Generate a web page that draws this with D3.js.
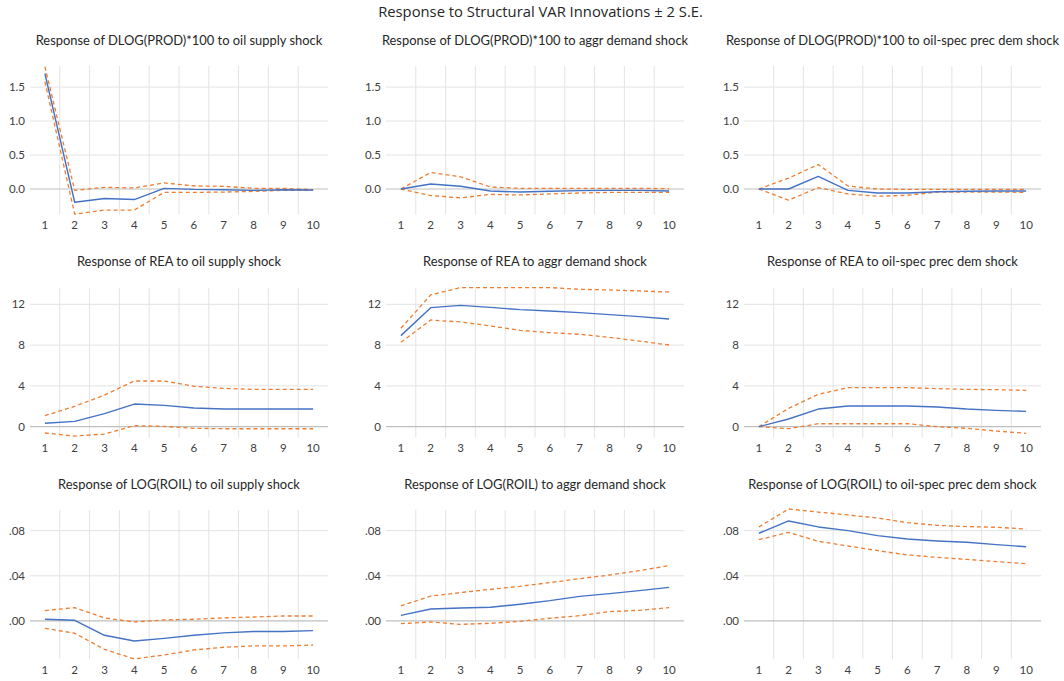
<!DOCTYPE html>
<html>
<head>
<meta charset="utf-8">
<script src="https://cdn.jsdelivr.net/npm/d3@7"></script>
<style>
  html, body { margin: 0; padding: 0; background: #ffffff; }
  svg { display: block; }
</style>
</head>
<body>
<svg id="chart" width="1064" height="681"></svg>
<script>
// ---------------- DATA ----------------
const mainTitle = "Response to Structural VAR Innovations \u00B1 2 S.E.";
const steps = ["1", "2", "3", "4", "5", "6", "7", "8", "9", "10"];

const panelTitles = [
  "Response of DLOG(PROD)*100 to oil supply shock",
  "Response of DLOG(PROD)*100 to aggr demand shock",
  "Response of DLOG(PROD)*100 to oil-spec prec dem shock",
  "Response of REA to oil supply shock",
  "Response of REA to aggr demand shock",
  "Response of REA to oil-spec prec dem shock",
  "Response of LOG(ROIL) to oil supply shock",
  "Response of LOG(ROIL) to aggr demand shock",
  "Response of LOG(ROIL) to oil-spec prec dem shock"
];

const prodYTicks = [0, 0.5, 1.0, 1.5];
const reaYTicks = [0, 4, 8, 12];
const roilYTicks = [0, 0.04, 0.08];
const prodYDomain = [-0.375, 1.81];
const reaYDomain = [-1.08, 13.57];
const roilYDomain = [-0.0337, 0.0983];

// DLOG(PROD)*100
const prodSupply    = [1.70, -0.195, -0.14, -0.155, 0.01, -0.005, -0.01, -0.02, -0.01, -0.015];
const prodSupplyHi  = [1.80, -0.02, 0.025, 0.015, 0.09, 0.045, 0.04, 0.01, 0.01, -0.01];
const prodSupplyLo  = [1.58, -0.37, -0.31, -0.31, -0.05, -0.05, -0.045, -0.035, -0.02, -0.02];
const prodDemand    = [0.0, 0.073, 0.04, -0.03, -0.044, -0.034, -0.024, -0.02, -0.02, -0.03];
const prodDemandHi  = [0.0, 0.243, 0.18, 0.03, 0.01, 0.01, 0.01, 0.01, 0.01, 0.005];
const prodDemandLo  = [0.0, -0.097, -0.13, -0.08, -0.087, -0.073, -0.058, -0.05, -0.05, -0.05];
const prodOilSpec   = [0.0, 0.0, 0.185, -0.02, -0.058, -0.058, -0.04, -0.034, -0.03, -0.03];
const prodOilSpecHi = [0.0, 0.16, 0.36, 0.045, 0.0, -0.005, -0.005, -0.005, -0.005, -0.005];
const prodOilSpecLo = [0.0, -0.165, 0.02, -0.073, -0.107, -0.092, -0.045, -0.044, -0.044, -0.05];

// REA
const reaSupply    = [0.33, 0.52, 1.28, 2.22, 2.09, 1.83, 1.73, 1.73, 1.73, 1.73];
const reaSupplyHi  = [1.08, 2.0, 3.1, 4.48, 4.48, 3.96, 3.76, 3.66, 3.66, 3.66];
const reaSupplyLo  = [-0.62, -0.92, -0.72, 0.1, 0.03, -0.16, -0.2, -0.2, -0.2, -0.2];
const reaDemand    = [8.93, 11.67, 11.9, 11.7, 11.48, 11.35, 11.18, 10.99, 10.79, 10.56];
const reaDemandHi  = [9.65, 12.92, 13.64, 13.64, 13.64, 13.64, 13.47, 13.41, 13.31, 13.21];
const reaDemandLo  = [8.27, 10.46, 10.27, 9.88, 9.45, 9.22, 9.06, 8.76, 8.4, 8.01];
const reaOilSpec   = [0.0, 0.75, 1.73, 2.03, 2.03, 2.03, 1.93, 1.73, 1.6, 1.5];
const reaOilSpecHi = [0.0, 1.8, 3.17, 3.83, 3.83, 3.83, 3.73, 3.66, 3.63, 3.56];
const reaOilSpecLo = [0.0, -0.2, 0.29, 0.29, 0.29, 0.29, 0.0, -0.16, -0.43, -0.65];

// LOG(ROIL)
const roilSupply    = [0.0015, 0.0006, -0.0127, -0.0177, -0.0154, -0.0127, -0.0106, -0.0094, -0.0094, -0.0086];
const roilSupplyHi  = [0.0092, 0.0118, 0.0027, -0.0009, 0.0009, 0.0015, 0.0027, 0.0035, 0.0044, 0.0044];
const roilSupplyLo  = [-0.0065, -0.0109, -0.0251, -0.0337, -0.0301, -0.0257, -0.0233, -0.0221, -0.0221, -0.0213];
const roilDemand    = [0.005, 0.0106, 0.0115, 0.0121, 0.0148, 0.018, 0.0218, 0.0242, 0.0269, 0.0298];
const roilDemandHi  = [0.0133, 0.0221, 0.0251, 0.028, 0.0307, 0.034, 0.0375, 0.0407, 0.0446, 0.049];
const roilDemandLo  = [-0.0024, -0.0009, -0.003, -0.0021, -0.0003, 0.0024, 0.0047, 0.0083, 0.0094, 0.0118];
const roilOilSpec   = [0.0777, 0.0886, 0.0833, 0.080, 0.0756, 0.0726, 0.0709, 0.0697, 0.0676, 0.0658];
const roilOilSpecHi = [0.0833, 0.0992, 0.0965, 0.0939, 0.0912, 0.0871, 0.0847, 0.0836, 0.083, 0.0815];
const roilOilSpecLo = [0.072, 0.0785, 0.0706, 0.0664, 0.0623, 0.0585, 0.0564, 0.0546, 0.0526, 0.0508];

// ---------------- LAYOUT ----------------
const colX = [[30, 328], [386, 684], [744, 1041]];
const rowY = [[66, 214.5], [288.3, 437.7], [510, 659]];
const titleY = [40, 261, 484];

const fmtProd = d3.format(".1f");
const fmtRea = d3.format("d");
const fmtRoil = d => d3.format(".2f")(d).replace(/^0\./, ".").replace(/^-0\./, "-.");

const rows = [
  { ticks: prodYTicks, domain: prodYDomain, fmt: fmtProd,
    series: [[prodSupply, prodSupplyHi, prodSupplyLo], [prodDemand, prodDemandHi, prodDemandLo], [prodOilSpec, prodOilSpecHi, prodOilSpecLo]] },
  { ticks: reaYTicks, domain: reaYDomain, fmt: fmtRea,
    series: [[reaSupply, reaSupplyHi, reaSupplyLo], [reaDemand, reaDemandHi, reaDemandLo], [reaOilSpec, reaOilSpecHi, reaOilSpecLo]] },
  { ticks: roilYTicks, domain: roilYDomain, fmt: fmtRoil,
    series: [[roilSupply, roilSupplyHi, roilSupplyLo], [roilDemand, roilDemandHi, roilDemandLo], [roilOilSpec, roilOilSpecHi, roilOilSpecLo]] }
];

const BLUE = "#4472C4";
const ORANGE = "#ED7D31";
const TEXT = "#404040";
const FONT = "Lato, 'Open Sans', sans-serif";

const svg = d3.select("#chart");

const mt = svg.append("text")
  .attr("x", 540.5).attr("y", 12).attr("dy", "0.35em")
  .attr("text-anchor", "middle")
  .attr("font-family", "'Open Sans', sans-serif")
  .attr("font-size", 14)
  .attr("fill", "#262626")
  .text(mainTitle);
{
  const w = mt.node().getComputedTextLength();
  mt.attr("font-size", 14 * 325 / w);
}

const panelTitleNodes = [];

rows.forEach((row, r) => {
  row.series.forEach((ser, c) => {
    const [x0, x1] = colX[c];
    const [y0, y1] = rowY[r];
    const x = d3.scaleBand().domain(steps).range([x0, x1]).padding(0);
    const y = d3.scaleLinear().domain(row.domain).range([y1, y0]);
    const g = svg.append("g");

    // vertical gridlines between categories
    g.append("g").selectAll("line")
      .data(steps.slice(1))
      .join("line")
      .attr("x1", d => x(d)).attr("x2", d => x(d))
      .attr("y1", y0).attr("y2", y1)
      .attr("stroke", "#E3E3E3").attr("stroke-width", 1);

    // horizontal gridlines
    g.append("g").selectAll("line")
      .data(row.ticks.filter(t => t !== 0))
      .join("line")
      .attr("x1", x0).attr("x2", x1)
      .attr("y1", d => y(d)).attr("y2", d => y(d))
      .attr("stroke", "#E3E3E3").attr("stroke-width", 1);

    // zero line
    g.append("line")
      .attr("x1", x0).attr("x2", x1)
      .attr("y1", y(0)).attr("y2", y(0))
      .attr("stroke", "#BFBFBF").attr("stroke-width", 1.2);

    // y axis labels
    const ya = g.append("g")
      .attr("transform", `translate(${x0},0)`)
      .call(d3.axisLeft(y).tickValues(row.ticks).tickFormat(row.fmt).tickSize(0).tickPadding(5));
    ya.select(".domain").remove();
    ya.selectAll("text").attr("font-family", FONT).attr("font-size", 11.5).attr("fill", TEXT);

    // x axis labels
    const xa = g.append("g")
      .attr("transform", `translate(0,${y1})`)
      .call(d3.axisBottom(x).tickSize(0).tickPadding(6.5));
    xa.select(".domain").remove();
    xa.selectAll("text").attr("font-family", FONT).attr("font-size", 11.5).attr("fill", TEXT);

    const line = d3.line()
      .x((d, i) => x(steps[i]) + x.bandwidth() / 2)
      .y(d => y(d));

    const [mid, hi, lo] = ser;
    [hi, lo].forEach(s => {
      g.append("path").datum(s)
        .attr("d", line)
        .attr("fill", "none")
        .attr("stroke", ORANGE)
        .attr("stroke-width", 1.3)
        .attr("stroke-dasharray", "4,3")
        .attr("stroke-linejoin", "round");
    });
    g.append("path").datum(mid)
      .attr("d", line)
      .attr("fill", "none")
      .attr("stroke", BLUE)
      .attr("stroke-width", 1.4)
      .attr("stroke-linejoin", "round");

    const t = svg.append("text")
      .attr("x", (x0 + x1) / 2).attr("y", titleY[r]).attr("dy", "0.35em")
      .attr("text-anchor", "middle")
      .attr("font-family", FONT)
      .attr("font-size", 13)
      .attr("fill", "#262626")
      .text(panelTitles[r * 3 + c]);
    panelTitleNodes.push(t);
  });
});

// fit panel title size so first title matches the reference width
{
  const w = panelTitleNodes[0].node().getComputedTextLength();
  const fs = 13 * 287 / w;
  panelTitleNodes.forEach(t => t.attr("font-size", fs));
}
</script>
</body>
</html>
